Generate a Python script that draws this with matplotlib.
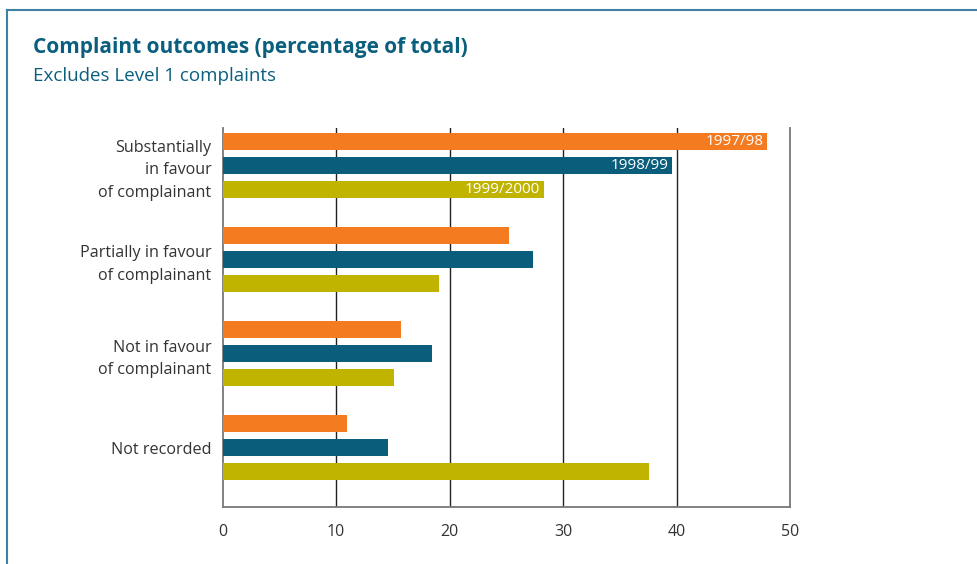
import numpy as np
import matplotlib.pyplot as plt
from matplotlib.lines import Line2D

categories = ["Substantially\nin favour\nof complainant",
              "Partially in favour\nof complainant",
              "Not in favour\nof complainant",
              "Not recorded"]
years = ["1997/98", "1998/99", "1999/2000"]
v1997 = [48.0, 25.2, 15.7, 11.0]
v1998 = [39.6, 27.4, 18.5, 14.6]
v1999 = [28.3, 19.1, 15.1, 37.6]
colors = ["#f47b20", "#0a5e7c", "#c0b400"]

plt.rcParams['font.family'] = ['Open Sans', 'DejaVu Sans']

fig = plt.figure(figsize=(9.77, 5.64), dpi=100)
ax = fig.add_axes([222.5 / 977, 1 - 507 / 564, (790 - 222.5) / 977, (507 - 128) / 564])

y = np.arange(len(categories))
offsets = [-0.255, 0, 0.255]
for vals, off, col, yr in zip([v1997, v1998, v1999], offsets, colors, years):
    ax.barh(y + off, vals, height=0.18, color=col, zorder=3)
    # year label inside the top group's bars
    ax.text(vals[0] - 0.3, y[0] + off, yr, color="white", ha="right",
            va="center", fontsize=11, zorder=4)

ax.set_xlim(0, 50)
ax.set_ylim(3.628, -0.394)
ax.set_xticks([0, 10, 20, 30, 40, 50])
ax.set_yticks(y)
ax.set_yticklabels(categories, fontsize=11.6, color="#333333",
                   ha="right", linespacing=1.55)
ax.tick_params(axis="both", length=0, colors="#333333")
ax.tick_params(axis="x", pad=12, labelsize=11.5)
ax.tick_params(axis="y", pad=8)

for xv in [10, 20, 30, 40]:
    ax.axvline(xv, color="#222222", lw=1, zorder=1)
for s in ["left", "right", "bottom"]:
    ax.spines[s].set_color("#777777")
    ax.spines[s].set_linewidth(1.3)
ax.spines["top"].set_visible(False)

# title block
fig.text(33 / 977, 1 - 47 / 564, "Complaint outcomes (percentage of total)",
         fontsize=15, fontweight="bold", color="#0b5f7e", va="center")
fig.text(33 / 977, 1 - 76 / 564, "Excludes Level 1 complaints",
         fontsize=13.5, color="#0b5f7e", va="center")

# frame lines along top and left
fig.add_artist(Line2D([6.5 / 977, 1], [1 - 10 / 564] * 2, color="#3f80a3", lw=1.5))
fig.add_artist(Line2D([6.5 / 977] * 2, [0, 1 - 10 / 564], color="#3f80a3", lw=1.5))

fig.savefig("out.png", dpi=100)
